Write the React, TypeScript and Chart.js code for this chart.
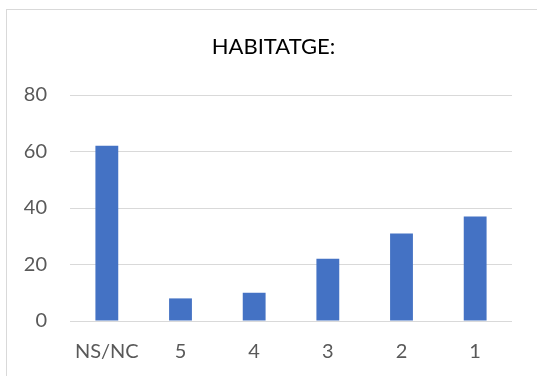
import React, { useEffect, useRef } from "react";
import { Chart, registerables } from "chart.js";

Chart.register(...registerables);

const categories = ["NS/NC", "5", "4", "3", "2", "1"];
const values = [62, 8, 10, 22, 31, 37];
const titleText = "HABITATGE:";

const titlePlugin = {
  id: "centeredTitle",
  afterDraw(chart: any) {
    const c = chart.ctx;
    c.save();
    c.font = "normal 22px Lato";
    c.fillStyle = "#000000";
    c.textAlign = "center";
    c.textBaseline = "middle";
    c.fillText(titleText, 273.5, 47);
    c.restore();
  },
};

export default function App() {
  const ref = useRef<HTMLCanvasElement | null>(null);
  useEffect(() => {
    document.body.style.margin = "0";
    const ctx = ref.current!;
    const chart = new Chart(ctx, {
      type: "bar",
      data: {
        labels: categories,
        datasets: [
          {
            data: values,
            backgroundColor: "#4472C4",
            barPercentage: 0.31,
            categoryPercentage: 1,
          },
        ],
      },
      plugins: [titlePlugin],
      options: {
        animation: false,
        responsive: false,
        maintainAspectRatio: false,
        layout: { padding: { left: 0, right: 25, top: 95, bottom: 0 } },
        plugins: {
          legend: { display: false },
          tooltip: { enabled: false },
          title: { display: false },
        },
        scales: {
          x: {
            grid: { display: false, drawTicks: false },
            border: { display: false },
            ticks: {
              color: "#595959",
              font: { family: "Lato", size: 20 },
              padding: 19,
            },
            afterFit: (s: any) => {
              s.height = 55;
            },
          },
          y: {
            min: 0,
            max: 80,
            ticks: {
              stepSize: 20,
              color: "#595959",
              font: { family: "Lato", size: 20 },
              padding: 23,
            },
            grid: { color: "#d9d9d9", lineWidth: 1, drawTicks: false },
            border: { display: false },
            afterFit: (s: any) => {
              s.width = 70;
            },
          },
        },
      },
    });
    return () => chart.destroy();
  }, []);
  return (
    <div style={{ position: "relative", width: 537, height: 376, background: "#fff", overflow: "hidden" }}>
      <div
        style={{
          position: "absolute",
          left: 6,
          top: 9,
          width: 540,
          height: 380,
          border: "1px solid #d9d9d9",
          boxSizing: "border-box",
        }}
      />
      <canvas ref={ref} width={537} height={376} style={{ position: "absolute", left: 0, top: 0 }} />
    </div>
  );
}
